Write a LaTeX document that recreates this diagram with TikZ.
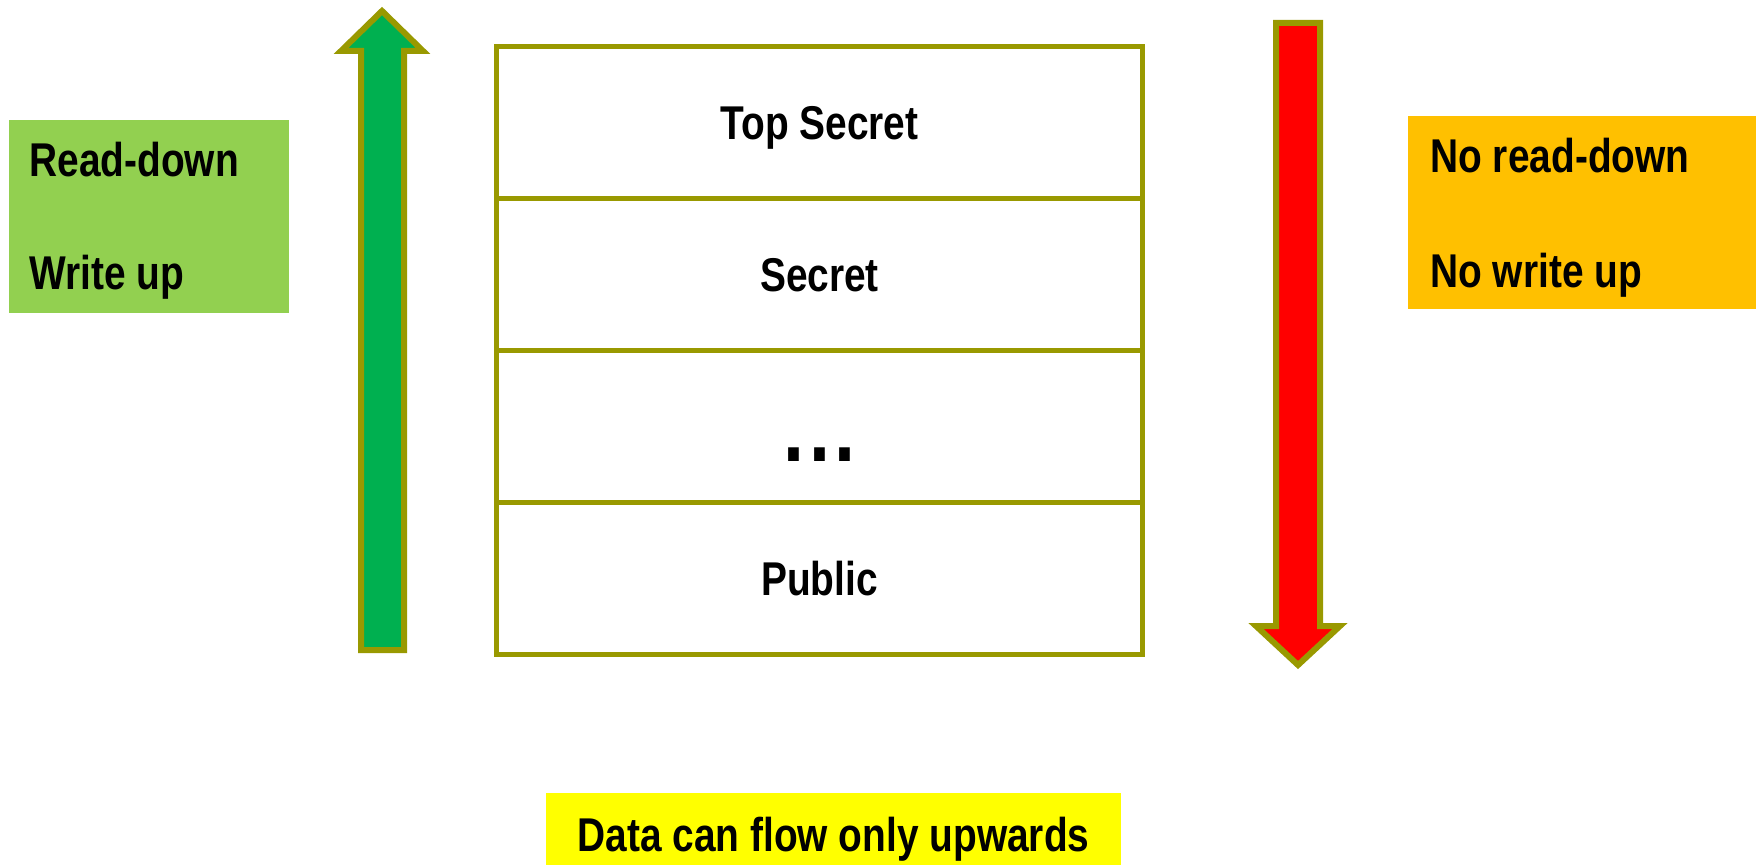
\documentclass[tikz,border=0pt]{standalone}
\usepackage{fontspec}
\newfontfamily\labfont{Liberation Sans}[FakeStretch=0.82]
\definecolor{rim}{HTML}{999900}
\definecolor{upgreen}{HTML}{00B050}
\definecolor{downred}{HTML}{FF0000}
\definecolor{leafgreen}{HTML}{92D050}
\definecolor{amber}{HTML}{FFC000}
\definecolor{notice}{HTML}{FFFF00}
\begin{document}
\begin{tikzpicture}[x=0.5pt,y=-0.5pt,
  txt/.style={font=\labfont\bfseries\fontsize{23.7pt}{28pt}\selectfont, text=black},
  layer/.style={draw=rim, line width=2.5pt, fill=white,
    minimum width=323pt, minimum height=76pt, inner sep=0pt,
    txt, text height=17.5pt, text depth=0pt},
  sidebox/.style={draw=none, inner sep=0pt, minimum height=96.5pt},
  sidetext/.style={txt, anchor=base west, inner sep=0pt},
  flow/.style={draw=rim, line width=3pt, line join=miter, miter limit=10}]
\useasboundingbox[fill=white] (0,0) rectangle (1758,866);

% security levels, stacked
\node[layer] (ts)  at (819.5,122.5) {Top Secret};
\node[layer] (sec) at (819.5,274.5) {Secret};
\node[layer, text height=35.5pt] (mid) at (819.5,426.5)
  {\fontsize{46pt}{50pt}\selectfont.\kern2.5pt.\kern2.5pt.};
\node[layer] (pub) at (819.5,578.5) {Public};

% upward (green) and downward (red) block arrows
\draw[flow, fill=upgreen] (361,650) -- (361,51) -- (341,51) -- (382,11)
  -- (423,51) -- (404,51) -- (404,650) -- cycle;
\draw[flow, fill=downred] (1276,23) -- (1320,23) -- (1320,626) -- (1340,626)
  -- (1298,665) -- (1256,626) -- (1276,626) -- cycle;

% rule boxes
\node[sidebox, fill=leafgreen, minimum width=140pt] (allow) at (149,216.5) {};
\node[sidetext] (rd) at (29,177) {Read-down};
\node[sidetext] (wu) at (29,290) {Write up};

\node[sidebox, fill=amber, minimum width=174pt] (deny) at (1582,212.5) {};
\node[sidetext] (nrd) at (1430,173) {No read-down};
\node[sidetext] (nwu) at (1430,288) {No write up};

% summary note
\node[fill=notice, inner sep=0pt, minimum width=287.5pt, minimum height=36pt,
  txt, text height=22pt, text depth=0pt] (note) at (833.5,829) {Data can flow only upwards};
\end{tikzpicture}
\end{document}
